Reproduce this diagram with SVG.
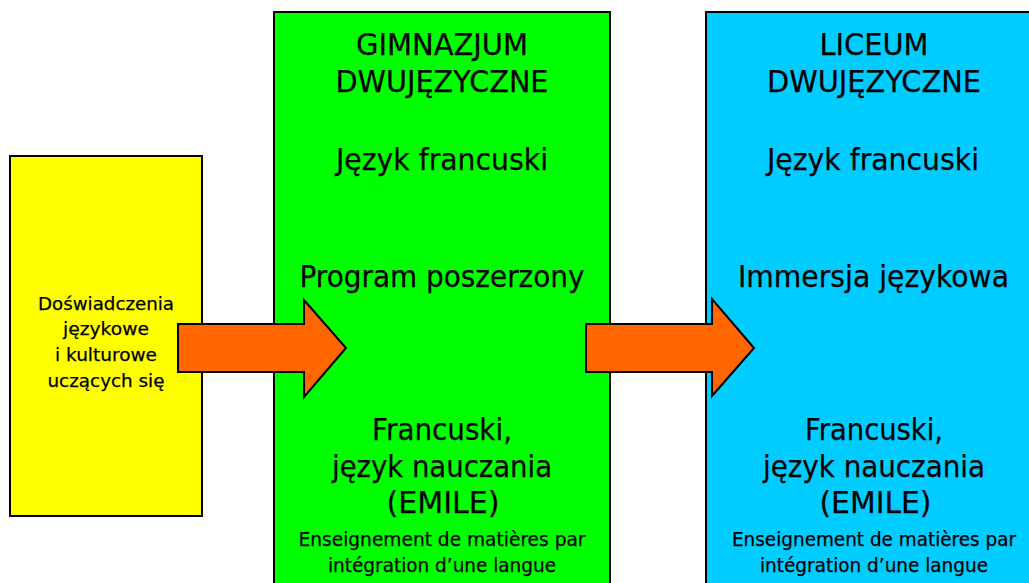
<svg xmlns="http://www.w3.org/2000/svg" width="1029" height="583" viewBox="0 0 1029 583">
<style>
.box{stroke:#000;stroke-width:2}
.arrow{fill:#FF6600;stroke:#000;stroke-width:2;stroke-linejoin:miter}
text{font-family:"DejaVu Sans",Verdana,sans-serif;fill:#000;text-anchor:middle;stroke:#000;stroke-width:0.25}
.big{font-size:31px}
.small{font-size:19.5px}
.yt{font-size:18.5px}
</style>
<rect width="1029" height="583" fill="#fff"/>
<g id="node-yellow">
<rect class="box" x="10" y="156" width="192" height="360" fill="#FFFF00"/>
<text class="yt" x="106" y="310" textLength="136" lengthAdjust="spacingAndGlyphs">Doświadczenia</text>
<text class="yt" x="106" y="335" textLength="86" lengthAdjust="spacingAndGlyphs">językowe</text>
<text class="yt" x="106" y="361" textLength="102" lengthAdjust="spacingAndGlyphs">i kulturowe</text>
<text class="yt" x="106" y="387" textLength="117" lengthAdjust="spacingAndGlyphs">uczących się</text>
</g>
<g id="node-gimnazjum">
<rect class="box" x="274" y="12" width="336" height="590" fill="#00FF00"/>
<text class="big" x="442" y="55" textLength="172" lengthAdjust="spacingAndGlyphs">GIMNAZJUM</text>
<text class="big" x="442" y="92" textLength="213" lengthAdjust="spacingAndGlyphs">DWUJĘZYCZNE</text>
<text class="big" x="442" y="170" textLength="212" lengthAdjust="spacingAndGlyphs">Język francuski</text>
<text class="big" x="442" y="287" textLength="285" lengthAdjust="spacingAndGlyphs">Program poszerzony</text>
<text class="big" x="442" y="440" textLength="140" lengthAdjust="spacingAndGlyphs">Francuski,</text>
<text class="big" x="442" y="477" textLength="220" lengthAdjust="spacingAndGlyphs">język nauczania</text>
<text class="big" x="443" y="513" textLength="113" lengthAdjust="spacingAndGlyphs">(EMILE)</text>
<text class="small" x="442" y="546" textLength="287" lengthAdjust="spacingAndGlyphs">Enseignement de matières par</text>
<text class="small" x="442" y="572" textLength="228" lengthAdjust="spacingAndGlyphs">intégration d’une langue</text>
</g>
<g id="node-liceum">
<rect class="box" x="706" y="12" width="340" height="590" fill="#00CCFF"/>
<text class="big" x="874" y="55" textLength="109" lengthAdjust="spacingAndGlyphs">LICEUM</text>
<text class="big" x="874" y="92" textLength="214" lengthAdjust="spacingAndGlyphs">DWUJĘZYCZNE</text>
<text class="big" x="873" y="170" textLength="212" lengthAdjust="spacingAndGlyphs">Język francuski</text>
<text class="big" x="873.5" y="287" textLength="271" lengthAdjust="spacingAndGlyphs" style="font-size:30px">Immersja językowa</text>
<text class="big" x="874" y="440" textLength="138" lengthAdjust="spacingAndGlyphs">Francuski,</text>
<text class="big" x="874" y="477" textLength="222" lengthAdjust="spacingAndGlyphs">język nauczania</text>
<text class="big" x="875.5" y="513" textLength="112" lengthAdjust="spacingAndGlyphs">(EMILE)</text>
<text class="small" x="874" y="546" textLength="284" lengthAdjust="spacingAndGlyphs" style="font-size:19px">Enseignement de matières par</text>
<text class="small" x="874" y="572" textLength="228" lengthAdjust="spacingAndGlyphs">intégration d’une langue</text>
</g>
<g id="connectors">
<path class="arrow" d="M178,324 L304,324 L304,300 L346,348 L304,397 L304,372 L178,372 Z"/>
<path class="arrow" d="M586,324 L712,324 L712,299 L754,348 L712,396 L712,372 L586,372 Z"/>
</g>
</svg>
